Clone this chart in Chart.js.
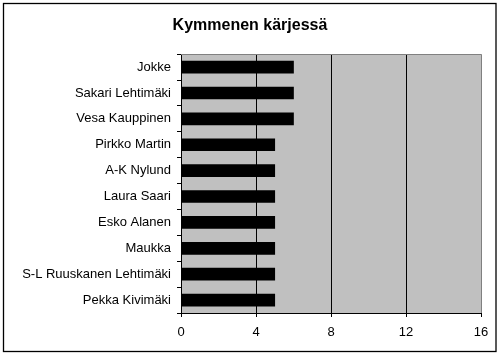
<!DOCTYPE html>
<html>
<head>
<meta charset="utf-8">
<script src="https://cdn.jsdelivr.net/npm/chart.js@4/dist/chart.umd.min.js"></script>
<style>
  html, body { margin: 0; padding: 0; background: #ffffff; }
  #wrap { width: 500px; height: 356px; position: relative; }
</style>
</head>
<body>
<div id="wrap"><canvas id="c" width="500" height="356"></canvas></div>
<script>
const titleText = "Kymmenen kärjessä";
const categories = ["Jokke", "Sakari Lehtimäki", "Vesa Kauppinen", "Pirkko Martin", "A-K Nylund",
  "Laura Saari", "Esko Alanen", "Maukka", "S-L Ruuskanen Lehtimäki", "Pekka Kivimäki"];
const values = [6, 6, 6, 5, 5, 5, 5, 5, 5, 5];
const xTicks = [0, 4, 8, 12, 16];

const FONT = "'Liberation Sans', Arial, sans-serif";

const plotDeco = {
  id: 'plotDeco',
  beforeDraw(chart) {
    const { ctx, chartArea: a } = chart;
    ctx.save();
    ctx.fillStyle = '#ffffff';
    ctx.fillRect(0, 0, chart.width, chart.height);
    ctx.fillStyle = '#c0c0c0';
    ctx.fillRect(a.left, a.top, a.right - a.left, a.bottom - a.top);
    ctx.restore();
  },
  afterDraw(chart) {
    const { ctx, chartArea: a } = chart;
    ctx.save();
    ctx.strokeStyle = '#808080';
    ctx.lineWidth = 1;
    ctx.beginPath();
    ctx.moveTo(a.left, Math.round(a.top) + 0.5);
    ctx.lineTo(a.right, Math.round(a.top) + 0.5);
    ctx.stroke();
    ctx.strokeStyle = '#000000';
    ctx.lineWidth = 1.3;
    ctx.strokeRect(3.5, 3.5, 492.5, 348);
    ctx.restore();
  }
};

new Chart(document.getElementById('c'), {
  type: 'bar',
  data: {
    labels: categories,
    datasets: [{
      data: values,
      backgroundColor: '#000000',
      borderWidth: 0,
      barThickness: 12
    }]
  },
  options: {
    indexAxis: 'y',
    responsive: false,
    animation: false,
    layout: { padding: { left: 19, right: 19, top: 0, bottom: 0 } },
    plugins: {
      legend: { display: false },
      tooltip: { enabled: false },
      title: {
        display: true,
        text: titleText,
        color: '#000000',
        font: { family: FONT, size: 16, weight: 'bold' },
        padding: { top: 16, bottom: 19 }
      }
    },
    scales: {
      x: {
        type: 'linear',
        min: 0,
        max: 16,
        afterFit(scale) { scale.height = 43; },
        afterBuildTicks(scale) { scale.ticks = xTicks.map(v => ({ value: v })); },
        ticks: {
          color: '#000000',
          font: { family: FONT, size: 13 },
          padding: 8,
          maxRotation: 0
        },
        grid: {
          color: (c) => (c.tick && c.tick.value === 16) ? '#808080' : '#000000',
          tickColor: '#000000',
          tickLength: 4,
          lineWidth: 1
        },
        border: { display: true, color: '#000000', width: 1 }
      },
      y: {
        afterFit(scale) { scale.width = 162; },
        ticks: {
          color: '#000000',
          font: { family: FONT, size: 13 },
          padding: 6,
          autoSkip: false
        },
        grid: {
          drawOnChartArea: false,
          drawTicks: true,
          tickLength: 4,
          color: '#000000',
          tickColor: '#000000'
        },
        border: { display: true, color: '#000000', width: 1 }
      }
    }
  },
  plugins: [plotDeco]
});
</script>
</body>
</html>
